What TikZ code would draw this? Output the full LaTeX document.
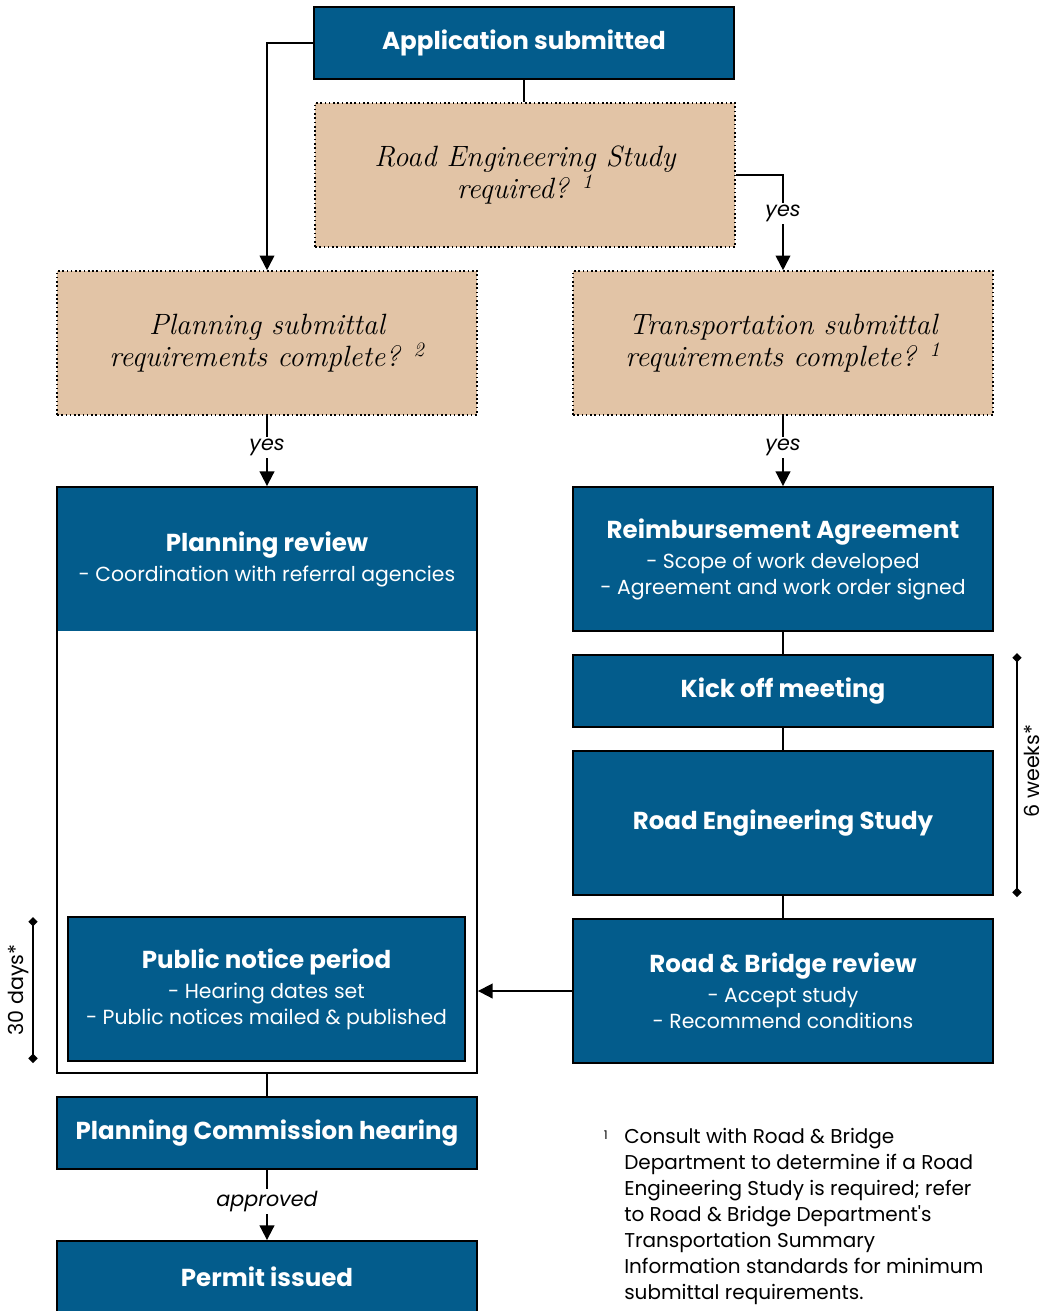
\documentclass[tikz,border=0pt]{standalone}
\usepackage{fontspec}
\newfontfamily\gothic{Poppins}
\usetikzlibrary{positioning, arrows.meta}
\definecolor{stageblue}{RGB}{3,92,140}
\definecolor{tanfill}{RGB}{226,196,166}
\newcommand{\subline}[1]{{\mdseries\fontsize{15.3}{19.5}\selectfont #1}}
\tikzset{
    >={Triangle[length=11pt,width=11pt]}, % filled arrow heads
    stage/.style={draw=black, line width=1.4pt, fill=stageblue, text=white, align=center,
        minimum width=315pt, inner sep=0pt, font=\gothic\bfseries\fontsize{18.4}{19.5}\selectfont},
    question/.style={draw=black, dotted, line width=1.2pt, fill=tanfill, align=center,
        minimum width=315pt, minimum height=108pt, font=\itshape\fontsize{22}{24}\selectfont},
    flow/.style={line width=1.4pt},
    cond/.style={fill=white, inner sep=1.5pt, font=\gothic\itshape\fontsize{15.5}{18}\selectfont},
    span/.style={line width=1.2pt, {Diamond[length=7pt,width=7pt]}-{Diamond[length=7pt,width=7pt]}},
}

\begin{document}
\begin{tikzpicture}[x=0.75pt, y=-0.75pt]
    \fill[white] (0,0) rectangle (1046,1311);
    \useasboundingbox (0,0) rectangle (1046,1311);

    % questions
    \node[stage, minimum height=54pt] (app) at (524,43) {Application submitted};
    \node[question] (rreq) at (525,175) {Road Engineering Study\\required? \textsuperscript{1}};
    \node[question] (plansub) at (267,343) {Planning submittal\\requirements complete? \textsuperscript{2}};
    \node[question] (transub) at (783,343) {Transportation submittal\\requirements complete? \textsuperscript{1}};

    % planning side
    \node[stage, draw=none, minimum height=107pt, anchor=north] (planrev) at (267,487)
        {Planning review\\[3pt]\subline{- Coordination with referral agencies}};
    \node[draw=black, line width=1.4pt, minimum width=315pt, minimum height=439.5pt] (planframe) at (267,780) {};
    \node[stage, minimum width=297.75pt, minimum height=108pt] (notice) at (266.5,989)
        {Public notice period\\[3pt]\subline{- Hearing dates set}\\\subline{- Public notices mailed \& published}};
    \node[stage, minimum height=54pt] (hearing) at (267,1133) {Planning Commission hearing};
    \node[stage, minimum height=54pt] (permit) at (267,1277) {Permit issued};

    % transportation side
    \node[stage, minimum height=108pt] (reimb) at (783,559)
        {Reimbursement Agreement\\[3pt]\subline{- Scope of work developed}\\\subline{- Agreement and work order signed}};
    \node[stage, minimum height=54pt] (kickoff) at (783,691) {Kick off meeting};
    \node[stage, minimum height=108pt] (study) at (783,823) {Road Engineering Study};
    \node[stage, minimum height=108pt] (rbrev) at (783,991)
        {Road \& Bridge review\\[3pt]\subline{- Accept study}\\\subline{- Recommend conditions}};

    % connectors
    \draw[flow,->] (app.west) -| (plansub.north);
    \draw[flow] (app.south) -- (app.south |- rreq.north);
    \draw[flow,->] (rreq.east) -| node[cond, pos=0.7] {yes} (transub.north);
    \draw[flow,->] (plansub.south) -- node[cond, pos=0.45] {yes} (planframe.north);
    \draw[flow,->] (transub.south) -- node[cond, pos=0.45] {yes} (reimb.north);
    \draw[flow] (reimb) -- (kickoff);
    \draw[flow] (kickoff) -- (study);
    \draw[flow] (study) -- (rbrev);
    \draw[flow,->] (rbrev.west) -- (rbrev.west -| planframe.east);
    \draw[flow] (planframe.south) -- (hearing.north);
    \draw[flow,->] (hearing.south) -- node[cond, pos=0.45] {approved} (permit.north);

    % durations
    \coordinate (wktop) at (1017,653);
    \coordinate (wkbot) at (1017,897);
    \draw[span] (wktop) -- (wkbot);
    \node[rotate=90, inner sep=0pt, font=\gothic\fontsize{15.5}{18}\selectfont] (weeks) at (1032,771) {6 weeks*};
    \coordinate (dytop) at (33,917);
    \coordinate (dybot) at (33,1063);
    \draw[span] (dytop) -- (dybot);
    \node[rotate=90, inner sep=0pt, font=\gothic\fontsize{15.5}{18}\selectfont] (days) at (19,990) {30 days*};

    % footnote
    \node[anchor=north west, align=left, inner sep=0pt, font=\gothic\fontsize{15}{19.5}\selectfont] (note) at (624,1128)
        {Consult with Road \& Bridge\\Department to determine if a Road\\Engineering Study is required; refer\\to Road \& Bridge Department's\\Transportation Summary\\Information standards for minimum\\submittal requirements.};
    \node[anchor=north east, inner sep=0pt, font=\gothic\fontsize{9}{10}\selectfont] (notemark) at (608,1131) {1};
\end{tikzpicture}
\end{document}
